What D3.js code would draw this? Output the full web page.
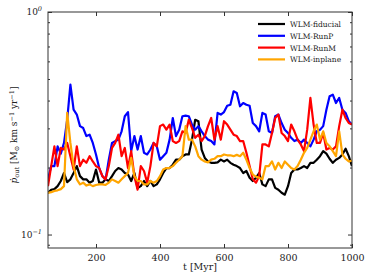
<!DOCTYPE html>
<html>
<head>
<meta charset="utf-8">
<script src="https://cdn.jsdelivr.net/npm/d3@7"></script>
<style>
  body { margin: 0; background: #fff; }
  svg text { font-family: "DejaVu Serif", "Liberation Serif", serif; fill: #222; }
</style>
</head>
<body>
<div id="chart"></div>
<script>
// time in Myr, one sample per 10 Myr
var time = [50, 60, 70, 80, 90, 100, 110, 120, 130, 140,
    150, 160, 170, 180, 190, 200, 210, 220, 230, 240,
    250, 260, 270, 280, 290, 300, 310, 320, 330, 340,
    350, 360, 370, 380, 390, 400, 410, 420, 430, 440,
    450, 460, 470, 480, 490, 500, 510, 520, 530, 540,
    550, 560, 570, 580, 590, 600, 610, 620, 630, 640,
    650, 660, 670, 680, 690, 700, 710, 720, 730, 740,
    750, 760, 770, 780, 790, 800, 810, 820, 830, 840,
    850, 860, 870, 880, 890, 900, 910, 920, 930, 940,
    950, 960, 970, 980, 990, 1000];

var fiducial = [0.154, 0.159, 0.160, 0.165, 0.174, 0.189, 0.172, 0.177, 0.189, 0.203,
    0.183, 0.177, 0.177, 0.171, 0.174, 0.196, 0.171, 0.171, 0.177, 0.174,
    0.183, 0.193, 0.199, 0.196, 0.189, 0.186, 0.174, 0.189, 0.162, 0.165,
    0.174, 0.165, 0.174, 0.165, 0.168, 0.177, 0.189, 0.199, 0.199, 0.206,
    0.217, 0.217, 0.225, 0.229, 0.229, 0.267, 0.328, 0.323, 0.241, 0.221,
    0.213, 0.210, 0.210, 0.211, 0.217, 0.213, 0.217, 0.210, 0.206, 0.203,
    0.199, 0.189, 0.193, 0.180, 0.174, 0.180, 0.189, 0.168, 0.165, 0.177,
    0.177, 0.162, 0.159, 0.154, 0.151, 0.165, 0.189, 0.196, 0.196, 0.199,
    0.203, 0.199, 0.210, 0.210, 0.217, 0.225, 0.237, 0.231, 0.219, 0.210,
    0.217, 0.221, 0.229, 0.243, 0.225, 0.203];

var runP = [0.177, 0.203, 0.203, 0.249, 0.231, 0.258, 0.328, 0.472, 0.364, 0.346,
    0.307, 0.301, 0.277, 0.281, 0.258, 0.229, 0.199, 0.183, 0.177, 0.217,
    0.258, 0.263, 0.267, 0.291, 0.340, 0.355, 0.237, 0.277, 0.241, 0.277,
    0.233, 0.229, 0.241, 0.258, 0.249, 0.217, 0.225, 0.233, 0.267, 0.334,
    0.277, 0.296, 0.340, 0.342, 0.340, 0.312, 0.296, 0.307, 0.291, 0.277,
    0.267, 0.263, 0.254, 0.352, 0.346, 0.355, 0.379, 0.383, 0.440, 0.433,
    0.377, 0.390, 0.383, 0.379, 0.317, 0.307, 0.291, 0.352, 0.346, 0.291,
    0.286, 0.340, 0.346, 0.317, 0.296, 0.286, 0.272, 0.263, 0.267, 0.258,
    0.267, 0.258, 0.249, 0.267, 0.291, 0.296, 0.307, 0.364, 0.418, 0.425,
    0.390, 0.411, 0.364, 0.352, 0.323, 0.312];

var runM = [0.165, 0.203, 0.249, 0.203, 0.245, 0.241, 0.258, 0.225, 0.196, 0.249,
    0.203, 0.217, 0.210, 0.225, 0.213, 0.203, 0.199, 0.183, 0.177, 0.203,
    0.245, 0.258, 0.281, 0.225, 0.245, 0.199, 0.237, 0.183, 0.159, 0.203,
    0.193, 0.171, 0.203, 0.258, 0.249, 0.307, 0.312, 0.296, 0.312, 0.263,
    0.258, 0.263, 0.291, 0.286, 0.328, 0.301, 0.272, 0.281, 0.263, 0.277,
    0.307, 0.334, 0.267, 0.307, 0.267, 0.323, 0.312, 0.296, 0.281, 0.277,
    0.263, 0.263, 0.233, 0.203, 0.177, 0.171, 0.183, 0.254, 0.254, 0.249,
    0.286, 0.334, 0.346, 0.286, 0.277, 0.263, 0.312, 0.291, 0.267, 0.254,
    0.237, 0.296, 0.411, 0.312, 0.258, 0.258, 0.286, 0.241, 0.245, 0.241,
    0.249, 0.307, 0.364, 0.334, 0.317, 0.312];

var inplane = [0.154, 0.155, 0.157, 0.158, 0.160, 0.165, 0.352, 0.258, 0.203, 0.177,
    0.168, 0.171, 0.166, 0.168, 0.165, 0.167, 0.168, 0.168, 0.167, 0.171,
    0.177, 0.174, 0.171, 0.177, 0.183, 0.189, 0.221, 0.183, 0.174, 0.174,
    0.168, 0.168, 0.174, 0.171, 0.174, 0.183, 0.196, 0.199, 0.199, 0.203,
    0.210, 0.217, 0.225, 0.307, 0.267, 0.267, 0.249, 0.225, 0.217, 0.213,
    0.211, 0.217, 0.219, 0.225, 0.225, 0.229, 0.227, 0.227, 0.225, 0.228,
    0.225, 0.233, 0.217, 0.199, 0.186, 0.182, 0.180, 0.177, 0.203, 0.203,
    0.213, 0.196, 0.210, 0.199, 0.213, 0.206, 0.199, 0.196, 0.203, 0.217,
    0.233, 0.245, 0.267, 0.291, 0.312, 0.267, 0.291, 0.258, 0.249, 0.237,
    0.225, 0.291, 0.229, 0.219, 0.213, 0.215];

var seriesNames = ['WLM-fiducial', 'WLM-RunP', 'WLM-RunM', 'WLM-inplane'];
var seriesValues = [fiducial, runP, runM, inplane];
var seriesColours = ['#000000', '#0000ff', '#ff0000', '#ffa500'];
var xTicks = [200, 400, 600, 800, 1000];

var width = 374, height = 280;
var margin = {top: 12, right: 22, bottom: 32, left: 48};
var w = width - margin.left - margin.right;
var h = height - margin.top - margin.bottom;

var svg = d3.select('#chart').append('svg')
    .attr('width', width)
    .attr('height', height);

var g = svg.append('g')
    .attr('transform', 'translate(' + margin.left + ',' + margin.top + ')');

var x = d3.scaleLinear().domain([50, 1000]).range([0, w]);
var y = d3.scaleLog().domain([0.087, 1]).range([h, 0]);

// clip so the lines stay inside the frame
svg.append('defs').append('clipPath').attr('id', 'clip')
    .append('rect').attr('width', w).attr('height', h);

var line = d3.line()
    .x(function(d, i) { return x(time[i]); })
    .y(function(d) { return y(d); });

var lines = g.append('g').attr('clip-path', 'url(#clip)');
seriesValues.forEach(function(vals, k) {
    lines.append('path')
        .datum(vals)
        .attr('fill', 'none')
        .attr('stroke', seriesColours[k])
        .attr('stroke-width', 2.2)
        .attr('stroke-linejoin', 'round')
        .attr('d', line);
});

// x axes, ticks pointing inward
var xAxis = g.append('g')
    .attr('transform', 'translate(0,' + h + ')')
    .call(d3.axisBottom(x).tickValues(xTicks).tickSize(-4).tickPadding(6).tickFormat(d3.format('d')));
var xTop = g.append('g')
    .call(d3.axisTop(x).tickValues(xTicks).tickSize(-4).tickFormat(''));

// y axes: majors at decades, minors between
var minorTicks = [0.09, 0.2, 0.3, 0.4, 0.5, 0.6, 0.7, 0.8, 0.9];
var yLeft = g.append('g')
    .call(d3.axisLeft(y).tickValues([0.1, 1]).tickSize(-4).tickFormat(''));
var yRight = g.append('g')
    .attr('transform', 'translate(' + w + ',0)')
    .call(d3.axisRight(y).tickValues([0.1, 1]).tickSize(-4).tickFormat(''));
g.append('g').call(d3.axisLeft(y).tickValues(minorTicks).tickSize(-2).tickFormat(''));
g.append('g').attr('transform', 'translate(' + w + ',0)')
    .call(d3.axisRight(y).tickValues(minorTicks).tickSize(-2).tickFormat(''));

g.selectAll('.domain').remove();
g.selectAll('.tick line').attr('stroke', '#333');
xAxis.selectAll('text').style('font-size', '9.5px').attr('fill', '#222');

// frame
g.append('rect')
    .attr('x', 0).attr('y', 0)
    .attr('width', w).attr('height', h)
    .attr('fill', 'none')
    .attr('stroke', '#333')
    .attr('stroke-width', 1);

// decade labels 10^0 and 10^-1
[[1, '0'], [0.1, '\u22121']].forEach(function(p) {
    var t = g.append('text')
        .attr('x', -6)
        .attr('y', y(p[0]) + 3)
        .attr('text-anchor', 'end')
        .style('font-size', '9px');
    t.append('tspan').text('10');
    t.append('tspan').attr('dy', -4).style('font-size', '6.5px').style('font-style', 'italic').text(p[1]);
});

// axis titles
svg.append('text')
    .attr('x', margin.left + w / 2)
    .attr('y', 270)
    .attr('text-anchor', 'middle')
    .style('font-size', '9.5px')
    .text('t [Myr]');

var ylab = svg.append('text')
    .attr('transform', 'translate(17,' + (margin.top + 123) + ') rotate(-90)')
    .attr('text-anchor', 'middle')
    .style('font-size', '9px');
ylab.append('tspan').style('font-style', 'italic').text('\u1E57');
ylab.append('tspan').attr('dy', 2).style('font-size', '6.5px').text('out');
ylab.append('tspan').attr('dy', -2).text(' [M');
ylab.append('tspan').attr('dy', 2).style('font-size', '6.5px').text('\u2299');
ylab.append('tspan').attr('dy', -2).text(' km s');
ylab.append('tspan').attr('dy', -3.5).style('font-size', '6.5px').text('\u22121');
ylab.append('tspan').attr('dy', 3.5).text(' yr');
ylab.append('tspan').attr('dy', -3.5).style('font-size', '6.5px').text('\u22121');
ylab.append('tspan').attr('dy', 3.5).text(']');

// legend
var legend = g.append('g').attr('transform', 'translate(210,12)');
seriesNames.forEach(function(name, k) {
    var row = legend.append('g').attr('transform', 'translate(0,' + (k * 11.8) + ')');
    row.append('line')
        .attr('x1', 0).attr('x2', 27)
        .attr('stroke', seriesColours[k])
        .attr('stroke-width', 2.2);
    row.append('text')
        .attr('x', 32).attr('y', 3)
        .style('font-size', '7.5px')
        .text(name);
});
</script>
</body>
</html>
